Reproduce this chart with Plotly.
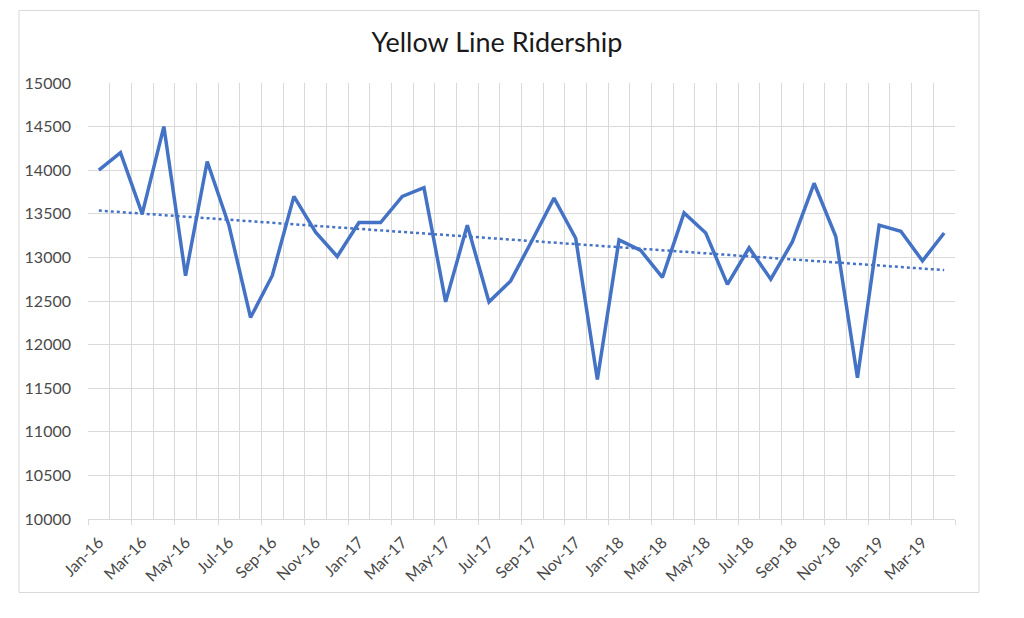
import numpy as np
import plotly.graph_objects as go

months = ["Jan", "Feb", "Mar", "Apr", "May", "Jun", "Jul", "Aug", "Sep", "Oct", "Nov", "Dec"]
categories = [f"{m}-{y}" for y in ["16", "17", "18", "19"] for m in months][:40]

ridership = [
    14000, 14200, 13500, 14500, 12790, 14100, 13370, 12310, 12790, 13700, 13290, 13010,
    13400, 13400, 13700, 13800, 12490, 13370, 12490, 12730, 13200, 13680, 13220, 11600,
    13200, 13080, 12770, 13510, 13280, 12690, 13110, 12750, 13180, 13850, 13240, 11620,
    13370, 13300, 12960, 13280,
]

y_ticks = [10000, 10500, 11000, 11500, 12000, 12500, 13000, 13500, 14000, 14500, 15000]

idx = np.arange(len(categories))
slope, intercept = np.polyfit(idx, np.array(ridership, dtype=float), 1)
trend = slope * idx + intercept

BLUE = "#4472C4"
GRID = "#d9d9d9"
TXT = "#4a4a4a"
FONT = "Lato"

L, R, T, B = 88, 69, 83, 99
W, H = 1024, 618
pw, ph = W - L - R, H - T - B

fig = go.Figure()
fig.add_trace(go.Scatter(x=idx, y=ridership, mode="lines",
                         line=dict(color=BLUE, width=3.5), hoverinfo="skip", showlegend=False))
fig.add_trace(go.Scatter(x=idx, y=trend, mode="lines",
                         line=dict(color=BLUE, width=2.5, dash="3px,3px"), hoverinfo="skip",
                         showlegend=False))
fig.add_trace(go.Scatter(x=[0], y=[None], xaxis="x2", mode="lines", showlegend=False,
                         hoverinfo="skip"))

n = len(categories)
bounds_even = [i - 0.5 for i in range(0, n + 1, 2)]
bounds_odd = [i - 0.5 for i in range(1, n + 1, 2)]

fig.update_layout(
    width=W, height=H,
    margin=dict(l=L, r=R, t=T, b=B),
    paper_bgcolor="white", plot_bgcolor="white",
    font=dict(family=FONT, color=TXT, size=16),
    title=dict(text="Yellow Line Ridership", font=dict(family=FONT, size=27, color="#1a1a1a"),
               x=497 / W, xanchor="center", xref="container",
               y=1 - 43 / H, yanchor="middle", yref="container"),
    xaxis=dict(range=[-0.5, n - 0.5], tickmode="array",
               tickvals=list(range(0, n, 2)), ticktext=categories[0::2],
               tickangle=-45, ticks="", showgrid=False, zeroline=False,
               showline=False, ticklabelstandoff=10, tickfont=dict(size=16, color=TXT)),
    xaxis2=dict(range=[-0.5, n - 0.5], overlaying="x", anchor="y", side="bottom",
                tickmode="array", tickvals=bounds_even, ticktext=["" for _ in bounds_even],
                ticks="outside", ticklen=5, tickcolor=GRID, tickwidth=1,
                showgrid=True, gridcolor=GRID, gridwidth=1, zeroline=False,
                showline=True, linecolor=GRID, linewidth=1,
                minor=dict(tickmode="array", tickvals=bounds_odd, ticks="",
                           showgrid=True, gridcolor=GRID, gridwidth=1)),
    yaxis=dict(range=[10000, 15000], tickmode="array", tickvals=y_ticks,
               ticktext=[str(v) for v in y_ticks],
               showgrid=True, gridcolor=GRID, gridwidth=1, zeroline=False,
               showline=False, ticks="", ticklabelstandoff=16,
               tickfont=dict(size=16, color=TXT)),
    shapes=[dict(type="rect", xref="paper", yref="paper",
                 x0=(19 - L) / pw, x1=(979 - L) / pw,
                 y0=(H - B - 592.5) / ph, y1=(H - B - 10.5) / ph,
                 line=dict(color=GRID, width=1), fillcolor="rgba(0,0,0,0)", layer="below")],
)

fig.write_html("out.html")
